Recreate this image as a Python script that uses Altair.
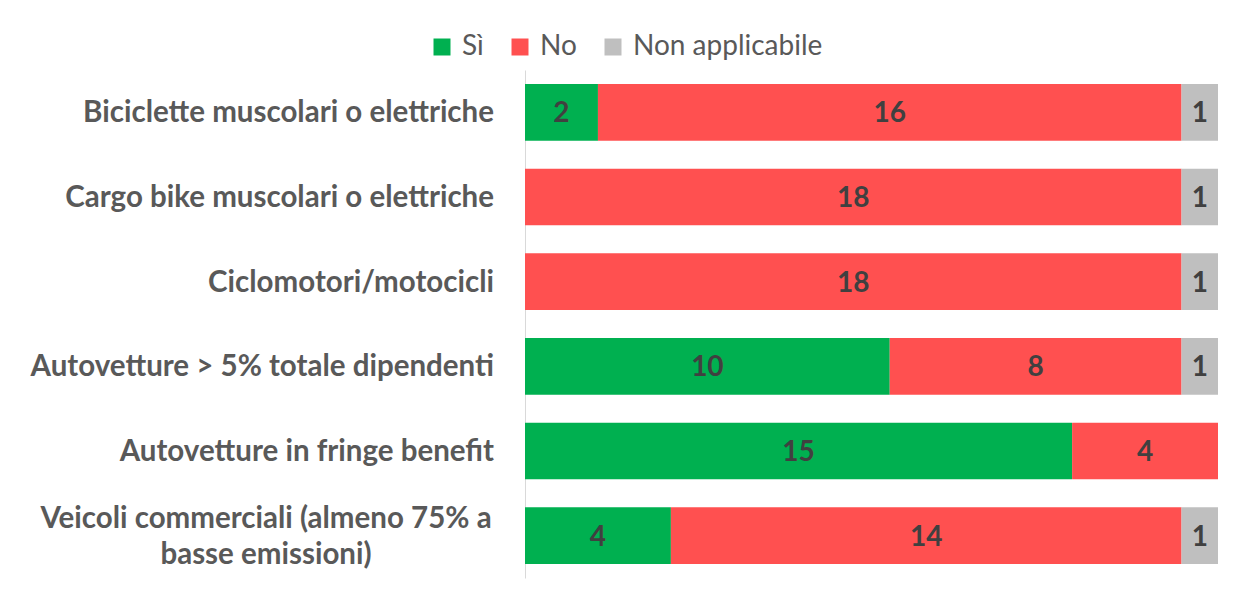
import altair as alt
import pandas as pd

categories = [
    "Biciclette muscolari o elettriche",
    "Cargo bike muscolari o elettriche",
    "Ciclomotori/motocicli",
    "Autovetture > 5% totale dipendenti\u00a0",
    "Autovetture in fringe benefit",
    "Veicoli commerciali (almeno 75% a\nbasse emissioni)",
]
series = ["Sì", "No", "Non applicabile"]
si_values = [2, 0, 0, 10, 15, 4]
no_values = [16, 18, 18, 8, 4, 14]
na_values = [1, 1, 1, 1, 0, 1]
colors = ["#00B050", "#FF5050", "#BFBFBF"]

rows = []
for i, cat in enumerate(categories):
    for j, (s, vals) in enumerate(zip(series, [si_values, no_values, na_values])):
        rows.append({"cat": cat, "serie": s, "ord": j, "value": vals[i]})
df = pd.DataFrame(rows)
lab_df = pd.DataFrame({"cat": categories, "multi": ["\n" in c for c in categories]})

FONT = "Lato"
LABEL_SIZE = 29.5
y_enc = alt.Y("cat:N", sort=categories,
              scale=alt.Scale(paddingInner=0.33, paddingOuter=0.165),
              axis=alt.Axis(title=None, labels=False, ticks=False, domain=True,
                            domainColor="#D9D9D9", domainWidth=1, grid=False))

base = alt.Chart(df).transform_stack(
    stack="value", groupby=["cat"], as_=["x0", "x1"],
    sort=[alt.SortField("ord", order="ascending")]
)

bars = base.mark_bar().encode(
    y=y_enc,
    x=alt.X("x0:Q", scale=alt.Scale(domain=[0, 19], nice=False, zero=True), axis=None),
    x2="x1:Q",
    color=alt.Color("serie:N", sort=series,
                    scale=alt.Scale(domain=series, range=colors),
                    legend=alt.Legend(title=None, orient="none", direction="horizontal",
                                      legendX=-97, legendY=-37,
                                      symbolType="square", symbolSize=289,
                                      symbolStrokeWidth=0,
                                      labelFontSize=28, labelFont=FONT, labelLimit=0,
                                      labelColor="#595959", columnPadding=22,
                                      symbolOffset=0, labelOffset=6)),
)

values = base.transform_filter("datum.value > 0").transform_calculate(
    mid="(datum.x0 + datum.x1) / 2"
).mark_text(font=FONT, fontSize=28, fontWeight="bold", color="#404040", dy=2).encode(
    y=alt.Y("cat:N", sort=categories),
    x=alt.X("mid:Q"),
    text=alt.Text("value:Q"),
)

labels_single = alt.Chart(lab_df).transform_filter("!datum.multi").mark_text(
    font=FONT, fontSize=LABEL_SIZE, fontWeight="bold", color="#595959", align="right", dy=1
).encode(
    y=alt.Y("cat:N", sort=categories),
    x=alt.value(-31),
    text="cat:N",
)

labels_multi = alt.Chart(lab_df).transform_filter("datum.multi").mark_text(
    font=FONT, fontSize=LABEL_SIZE, fontWeight="bold", color="#595959", align="center",
    lineBreak="\n", lineHeight=36, dy=-17
).encode(
    y=alt.Y("cat:N", sort=categories),
    x=alt.value(-259),
    text="cat:N",
)

chart = alt.layer(bars, values, labels_single, labels_multi).properties(
    width=693, height=508,
    autosize=alt.AutoSizeParams(type="none"),
    padding={"left": 517, "top": 62, "right": 10, "bottom": 16},
    background="white",
).configure_view(stroke=None)

chart.save("out.html", embed_options={"renderer": "svg", "actions": False})
